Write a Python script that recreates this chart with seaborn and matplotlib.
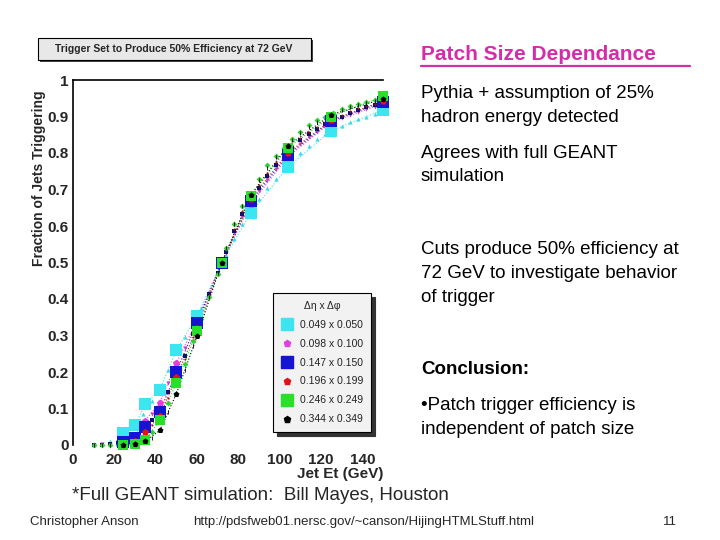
import pandas as pd
import matplotlib.pyplot as plt
import seaborn as sns
from matplotlib.lines import Line2D
from matplotlib.patches import Rectangle

# Jet Et grid of the small (dense) markers and of the big markers
et_fine = [10, 14, 18, 22, 26, 30, 34, 38, 42, 46, 50, 54, 58, 62, 66, 70, 74, 78,
           82, 86, 90, 94, 98, 102, 106, 110, 114, 118, 122, 126, 130, 134, 138, 142, 146, 150]
et_big = [24, 30, 35, 42, 50, 60, 72, 86, 104, 125, 150]

# fraction of jets triggering, dense points per patch size
cyan_fine = [0.0, 0.004, 0.010, 0.020, 0.035, 0.055, 0.085, 0.120, 0.155, 0.205, 0.255, 0.295,
             0.335, 0.375, 0.420, 0.470, 0.520, 0.565, 0.605, 0.640, 0.675, 0.705, 0.730, 0.755,
             0.780, 0.800, 0.820, 0.838, 0.852, 0.865, 0.875, 0.885, 0.893, 0.900, 0.906, 0.912]
magenta_fine = [0.0, 0.002, 0.004, 0.008, 0.014, 0.025, 0.050, 0.085, 0.118, 0.170, 0.222, 0.265,
                0.315, 0.365, 0.415, 0.470, 0.525, 0.580, 0.625, 0.660, 0.695, 0.725, 0.755, 0.780,
                0.805, 0.825, 0.843, 0.858, 0.872, 0.885, 0.895, 0.905, 0.913, 0.920, 0.927, 0.935]
blue_fine = [0.0, 0.001, 0.003, 0.006, 0.011, 0.018, 0.040, 0.068, 0.092, 0.145, 0.198, 0.245,
             0.305, 0.360, 0.415, 0.472, 0.530, 0.585, 0.632, 0.668, 0.705, 0.738, 0.768, 0.792,
             0.815, 0.835, 0.852, 0.866, 0.880, 0.890, 0.900, 0.910, 0.918, 0.925, 0.932, 0.940]
red_fine = [0.0, 0.0, 0.002, 0.004, 0.007, 0.011, 0.028, 0.055, 0.080, 0.130, 0.185, 0.235,
            0.295, 0.355, 0.412, 0.472, 0.535, 0.592, 0.640, 0.675, 0.712, 0.745, 0.775, 0.800,
            0.822, 0.842, 0.858, 0.872, 0.885, 0.895, 0.905, 0.914, 0.922, 0.929, 0.935, 0.942]
green_fine = [0.0, 0.0, 0.0, 0.0, 0.002, 0.004, 0.010, 0.035, 0.066, 0.115, 0.170, 0.222,
              0.285, 0.345, 0.405, 0.468, 0.540, 0.605, 0.655, 0.690, 0.730, 0.768, 0.792, 0.815,
              0.838, 0.858, 0.876, 0.890, 0.900, 0.910, 0.920, 0.928, 0.934, 0.940, 0.946, 0.955]
black_fine = [0.0, 0.0, 0.0, 0.0, 0.001, 0.002, 0.007, 0.020, 0.042, 0.090, 0.142, 0.205,
              0.272, 0.340, 0.405, 0.470, 0.540, 0.605, 0.655, 0.688, 0.725, 0.760, 0.788, 0.812,
              0.835, 0.855, 0.872, 0.886, 0.898, 0.908, 0.917, 0.925, 0.932, 0.938, 0.943, 0.948]

# big markers
cyan_big = [0.032, 0.055, 0.112, 0.152, 0.260, 0.353, 0.50, 0.636, 0.762, 0.861, 0.918]
magenta_big = [0.010, 0.025, 0.067, 0.116, 0.224, 0.341, 0.50, 0.660, 0.790, 0.885, 0.935]
blue_big = [0.008, 0.018, 0.050, 0.091, 0.200, 0.335, 0.50, 0.668, 0.795, 0.888, 0.940]
red_big = [0.005, 0.010, 0.035, 0.080, 0.185, 0.320, 0.50, 0.675, 0.800, 0.890, 0.942]
green_big = [0.0, 0.003, 0.014, 0.068, 0.170, 0.311, 0.50, 0.682, 0.815, 0.900, 0.955]
black_big = [0.0, 0.002, 0.010, 0.040, 0.140, 0.298, 0.50, 0.685, 0.820, 0.905, 0.948]

patch_labels = ["0.049 x 0.050", "0.098 x 0.100", "0.147 x 0.150",
                "0.196 x 0.199", "0.246 x 0.249", "0.344 x 0.349"]

W, H = 720, 540


def fx(px):
    return px / W


def fy(py):
    return 1 - py / H


sns.set_style("white")
plt.rcParams["font.family"] = ["Liberation Sans", "DejaVu Sans"]

fig = plt.figure(figsize=(7.2, 5.4), dpi=100)
ax = fig.add_axes([fx(73), fy(445), fx(383 - 73), (445 - 80) / H])

series = [
    # fine, big, colour, small marker, small colour, big marker, big size
    (cyan_fine, cyan_big, "#3CE6F0", "^", "#3CD8E8", "s", 80),
    (magenta_fine, magenta_big, "#E040E0", "v", "#C040C0", "p", 30),
    (blue_fine, blue_big, "#1414D2", "s", "#10106E", "s", 65),
    (red_fine, red_big, "#E01414", ".", "#B01010", "p", 28),
    (green_fine, green_big, "#28E028", "D", "#30D030", "s", 55),
    (black_fine, black_big, "#000000", "|", "#000000", "p", 20),
]

for i, (fine, big, col, sm, scol, bm, bs) in enumerate(series):
    sns.lineplot(x=et_big, y=big, ax=ax, color=col, lw=0.8, linestyle=":",
                 legend=False, zorder=2)
    sns.scatterplot(x=et_fine, y=fine, ax=ax, marker=sm, s=9, color=scol,
                    linewidth=0.6 if sm == "|" else 0, legend=False, zorder=3,
                    clip_on=False)
    sns.scatterplot(x=et_big, y=big, ax=ax, marker=bm, s=bs, color=col,
                    linewidth=0, legend=False, zorder=4 + i * 0.1, clip_on=False)

ax.set_xlim(0, 150)
ax.set_ylim(0, 1)
ax.set_xticks(range(0, 141, 20))
ax.set_xticks(range(0, 151, 5), minor=True)
ax.set_yticks([i / 10 for i in range(11)])
ax.set_yticklabels(["0"] + [f"0.{i}" for i in range(1, 10)] + ["1"])
ax.set_yticks([i / 50 for i in range(51)], minor=True)
ax.tick_params(axis="both", which="major", direction="in", length=8, width=1,
               labelsize=11, pad=3)
ax.tick_params(axis="both", which="minor", direction="in", length=4, width=1)
ax.tick_params(axis="x", pad=6)
for lab in ax.get_xticklabels() + ax.get_yticklabels():
    lab.set_fontweight("bold")
ax.set_xlabel("")
ax.set_ylabel("")
for side in ["bottom", "right"]:
    ax.spines[side].set_visible(False)
for side in ["top", "left"]:
    ax.spines[side].set_color("black")
    ax.spines[side].set_linewidth(1.2)

fig.text(fx(383), fy(474), "Jet Et (GeV)", ha="right", va="center",
         fontsize=11, fontweight="bold")
fig.text(fx(39), fy(178), "Fraction of Jets Triggering", ha="center", va="center",
         rotation=90, fontsize=10, fontweight="bold")

# legend
handles = []
for fine, big, col, sm, scol, bm, bs in series:
    handles.append(Line2D([], [], marker=bm, color=col, linestyle="none",
                          markersize=8 if bm == "s" else 5))
leg = ax.legend(handles=handles, labels=patch_labels, title="Δη x Δφ",
                loc="lower left", bbox_to_anchor=(fx(273), fy(432)),
                bbox_transform=fig.transFigure, borderaxespad=0,
                fontsize=7.5, title_fontsize=7.5, labelspacing=0.85,
                handletextpad=0.6, handlelength=1.2, borderpad=0.75,
                fancybox=False, frameon=True,
                shadow={"color": "#333333", "alpha": 1, "ox": 3, "oy": -3})
leg.get_frame().set_facecolor("#F2F2F2")
leg.get_frame().set_edgecolor("black")
leg.get_frame().set_linewidth(0.8)
for t in leg.get_texts():
    t.set_color("#222222")

# title box
fig.add_artist(Rectangle((fx(40), fy(62)), fx(311 - 38), (60 - 38) / H,
                         facecolor="#444444", edgecolor="none"))
fig.add_artist(Rectangle((fx(38), fy(60)), fx(311 - 38), (60 - 38) / H,
                         facecolor="#E8E8E8", edgecolor="black", linewidth=0.8))
fig.text(fx(174), fy(49), "Trigger Set to Produce 50% Efficiency at 72 GeV",
         ha="center", va="center", fontsize=7.5, fontweight="bold")

# right hand text
pink = "#D42DAA"
fig.text(fx(421), fy(55), "Patch Size Dependance", ha="left", va="center",
         fontsize=15, fontweight="bold", color=pink)
fig.add_artist(Line2D([fx(421), fx(690)], [fy(66), fy(66)], color=pink, lw=1.6))

body = [
    ("Pythia + assumption of 25%", 93, "normal"),
    ("hadron energy detected", 117, "normal"),
    ("Agrees with full GEANT", 153, "normal"),
    ("simulation", 177, "normal"),
    ("Cuts produce 50% efficiency at", 249, "normal"),
    ("72 GeV to investigate behavior", 273, "normal"),
    ("of trigger", 297, "normal"),
    ("Conclusion:", 369, "bold"),
    ("•Patch trigger efficiency is", 405, "normal"),
    ("independent of patch size", 429, "normal"),
]
for txt, ypix, wt in body:
    fig.text(fx(421), fy(ypix), txt, ha="left", va="center", fontsize=13.5,
             fontweight=wt, color="black")

fig.text(fx(72), fy(496), "*Full GEANT simulation:  Bill Mayes, Houston",
         ha="left", va="center", fontsize=13.5)
fig.text(fx(30), fy(522), "Christopher Anson", ha="left", va="center", fontsize=9.5)
fig.text(fx(193), fy(522), "http://pdsfweb01.nersc.gov/~canson/HijingHTMLStuff.html",
         ha="left", va="center", fontsize=9.5)
fig.text(fx(677), fy(522), "11", ha="right", va="center", fontsize=9.5)

fig.savefig("out.png", dpi=100)
